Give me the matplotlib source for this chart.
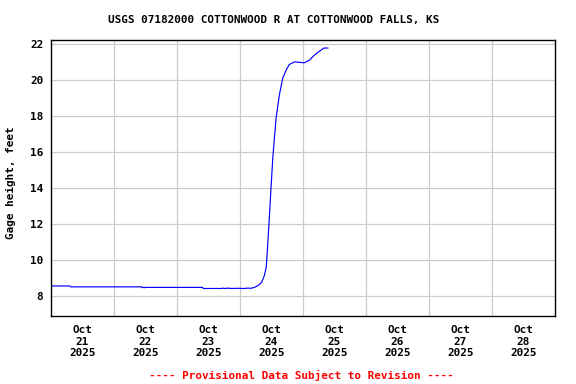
import matplotlib
matplotlib.use('Agg')
import matplotlib.pyplot as plt
import pandas as pd

# gage height readings
times = [
    '2025-10-21 00:00', '2025-10-21 07:15', '2025-10-21 07:30', '2025-10-22 10:30',
    '2025-10-22 10:45', '2025-10-22 11:00', '2025-10-22 11:30', '2025-10-22 12:00',
    '2025-10-22 12:15', '2025-10-23 09:45', '2025-10-23 10:00', '2025-10-23 17:00',
    '2025-10-23 17:30', '2025-10-23 18:00', '2025-10-23 20:00', '2025-10-23 20:15',
    '2025-10-23 23:00', '2025-10-24 01:30', '2025-10-24 03:00', '2025-10-24 04:15',
    '2025-10-24 05:30', '2025-10-24 06:45', '2025-10-24 08:15', '2025-10-24 09:15',
    '2025-10-24 10:00', '2025-10-24 10:30', '2025-10-24 11:15', '2025-10-24 11:45',
    '2025-10-24 12:30', '2025-10-24 13:00', '2025-10-24 13:45', '2025-10-24 15:00',
    '2025-10-24 16:15', '2025-10-24 17:30', '2025-10-24 18:45', '2025-10-24 20:45',
    '2025-10-25 00:30', '2025-10-25 02:30', '2025-10-25 04:15', '2025-10-25 06:15',
    '2025-10-25 08:00', '2025-10-25 09:30',
]
gage_ft = [
    8.54, 8.54, 8.49, 8.49,
    8.45, 8.47, 8.44, 8.47,
    8.46, 8.46, 8.40, 8.40,
    8.42, 8.40, 8.42, 8.40,
    8.41, 8.40, 8.42, 8.41,
    8.46, 8.55, 8.74, 9.10,
    9.56, 10.67, 12.50, 13.80,
    15.64, 16.56, 17.85, 19.14,
    20.06, 20.50, 20.83, 20.98,
    20.93, 21.08, 21.35, 21.57,
    21.75, 21.75,
]
label_days = ['2025-10-21', '2025-10-22', '2025-10-23', '2025-10-24',
              '2025-10-25', '2025-10-26', '2025-10-27', '2025-10-28']
y_ticks = [8, 10, 12, 14, 16, 18, 20, 22]

font = {'family': 'DejaVu Sans Mono', 'weight': 'bold', 'size': 7.9}

fig = plt.figure(figsize=(5.76, 3.84), dpi=100)
ax = fig.add_axes([0.0885, 0.177, 0.875, 0.719])

t = pd.to_datetime(times)
ax.plot(t, gage_ft, color='#0000ff', lw=0.85)

days = pd.to_datetime(label_days)
ax.set_xlim(days[0], days[-1] + pd.Timedelta(days=1))
ax.set_ylim(6.87, 22.2)

# labels at noon, grid lines at midnight
ax.set_xticks(days + pd.Timedelta(hours=12))
ax.set_xticklabels([d.strftime('%b\n%d\n%Y') for d in days], fontdict=font, linespacing=1.2)
ax.set_xticks(list(days[1:]), minor=True)
ax.set_yticks(y_ticks)
ax.set_yticklabels([str(v) for v in y_ticks], fontdict=font)

ax.grid(axis='x', which='minor', color='#cccccc', lw=0.9)
ax.grid(axis='y', which='major', color='#cccccc', lw=0.9)
ax.tick_params(which='both', length=0)
ax.tick_params(axis='y', pad=5.5)
ax.tick_params(axis='x', pad=6.5)
for s in ax.spines.values():
    s.set_linewidth(1)
    s.set_color('black')

fig.text(0.475, 0.948, 'USGS 07182000 COTTONWOOD R AT COTTONWOOD FALLS, KS',
         ha='center', va='center', **font)
fig.text(0.019, 0.523, 'Gage height, feet', rotation=90,
         ha='center', va='center', **font)
fig.text(0.524, 0.023, '---- Provisional Data Subject to Revision ----',
         ha='center', va='center', color='red', **font)

fig.savefig('out.png', dpi=100)
